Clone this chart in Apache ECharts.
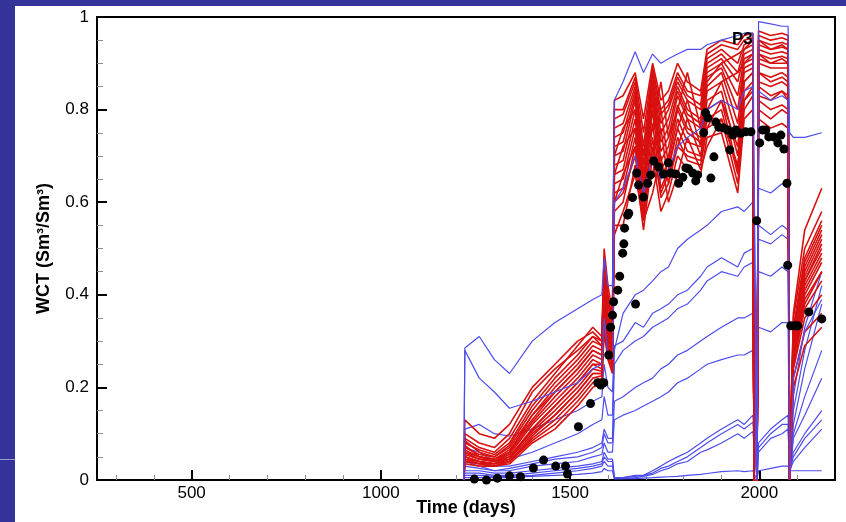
<!DOCTYPE html>
<html>
<head>
<meta charset="utf-8">
<script src="https://cdn.jsdelivr.net/npm/echarts@6/dist/echarts.min.js"></script>
<style>
  html, body { margin: 0; padding: 0; background: #333399; }
  #panel { position: absolute; left: 15px; top: 6px; width: 831px; height: 516px; background: #fff; }
  #rule { position: absolute; left: 0; top: 459px; width: 15px; height: 1px; background: #9a9ad6; }
  #main { position: absolute; left: 0; top: 0; width: 846px; height: 522px; }
</style>
</head>
<body>
<div id="panel"></div>
<div id="rule"></div>
<div id="main"></div>
<script>
// time grid shared by all simulated runs (days)
var days = [1219, 1222, 1260, 1300, 1340, 1400, 1460, 1520, 1560, 1584, 1590, 1600, 1612,
    1617, 1640, 1672, 1694, 1718, 1740, 1760, 1784, 1810, 1845, 1862, 1900, 1943, 1960, 1983,
    1986, 1994, 1998, 2030, 2060, 2076, 2080, 2090, 2120, 2165];

var xMajor = [500, 1000, 1500, 2000];
var xMinor = [300, 400, 600, 700, 800, 900, 1100, 1200, 1300, 1400, 1600, 1700, 1800, 1900, 2100];

// red runs (WCT)
var r01 = [0, 0.09,0.07,0.06,0.09,0.17,0.23,0.29,0.33,0.31,0.50,0.42,0.36, 0.82,0.83,0.88,0.78,0.90,0.82,0.84,0.90,0.86,0.84,0.93,0.95,0.94,0.96,0.965, 0,0, 0.97,0.96,0.965,0.96, 0,0.35,0.50,0.58];
var r02 = [0, 0.08,0.065,0.055,0.08,0.16,0.22,0.27,0.31,0.30,0.48,0.40,0.34, 0.80,0.80,0.87,0.75,0.89,0.80,0.82,0.88,0.84,0.83,0.92,0.94,0.93,0.95,0.955, 0,0, 0.96,0.95,0.955,0.95, 0,0.33,0.48,0.56];
var r03 = [0, 0.085,0.06,0.05,0.075,0.15,0.21,0.26,0.30,0.29,0.46,0.38,0.33, 0.78,0.79,0.86,0.72,0.88,0.79,0.81,0.87,0.83,0.81,0.91,0.93,0.90,0.94,0.95, 0,0, 0.95,0.94,0.945,0.94, 0,0.32,0.47,0.55];
var r04 = [0, 0.07,0.055,0.05,0.07,0.14,0.20,0.25,0.29,0.28,0.44,0.36,0.32, 0.76,0.77,0.85,0.70,0.87,0.77,0.80,0.86,0.82,0.80,0.90,0.92,0.88,0.93,0.94, 0,0, 0.94,0.93,0.935,0.93, 0,0.31,0.45,0.53];
var r05 = [0, 0.075,0.05,0.045,0.065,0.13,0.19,0.24,0.28,0.27,0.43,0.35,0.31, 0.74,0.75,0.84,0.68,0.86,0.75,0.78,0.85,0.80,0.78,0.89,0.91,0.86,0.92,0.93, 0,0, 0.93,0.92,0.925,0.92, 0,0.30,0.44,0.52];
var r06 = [0, 0.065,0.05,0.045,0.06,0.125,0.18,0.23,0.27,0.26,0.42,0.34,0.30, 0.72,0.73,0.83,0.66,0.85,0.73,0.76,0.84,0.79,0.77,0.88,0.90,0.83,0.91,0.92, 0,0, 0.92,0.91,0.915,0.91, 0,0.29,0.43,0.50];
var r07 = [0, 0.06,0.045,0.04,0.055,0.12,0.17,0.22,0.26,0.25,0.40,0.33,0.29, 0.70,0.71,0.82,0.64,0.84,0.71,0.74,0.83,0.78,0.76,0.87,0.89,0.80,0.90,0.91, 0,0, 0.91,0.90,0.90,0.90, 0,0.28,0.42,0.49];
var r08 = [0, 0.055,0.045,0.04,0.05,0.11,0.16,0.21,0.25,0.24,0.39,0.32,0.28, 0.68,0.69,0.80,0.62,0.83,0.69,0.72,0.81,0.76,0.74,0.85,0.88,0.77,0.89,0.90, 0,0, 0.90,0.89,0.89,0.89, 0,0.27,0.40,0.47];
var r09 = [0, 0.05,0.04,0.035,0.05,0.105,0.15,0.20,0.24,0.235,0.37,0.30,0.27, 0.66,0.67,0.78,0.61,0.82,0.67,0.70,0.80,0.75,0.73,0.84,0.86,0.74,0.88,0.89, 0,0, 0.88,0.87,0.88,0.87, 0,0.26,0.39,0.45];
var r10 = [0, 0.05,0.04,0.035,0.045,0.10,0.14,0.19,0.23,0.23,0.36,0.29,0.26, 0.64,0.65,0.76,0.60,0.80,0.65,0.69,0.78,0.73,0.72,0.82,0.84,0.70,0.86,0.88, 0,0, 0.86,0.85,0.86,0.85, 0,0.25,0.37,0.43];
var r11 = [0, 0.045,0.035,0.035,0.04,0.09,0.13,0.18,0.22,0.225,0.34,0.28,0.25, 0.62,0.63,0.74,0.58,0.77,0.63,0.67,0.76,0.71,0.70,0.80,0.82,0.67,0.84,0.86, 0,0, 0.83,0.82,0.84,0.82, 0,0.24,0.35,0.40];
var r12 = [0, 0.04,0.035,0.03,0.04,0.085,0.12,0.17,0.21,0.22,0.33,0.27,0.24, 0.58,0.60,0.72,0.56,0.74,0.61,0.64,0.74,0.69,0.68,0.76,0.78,0.64,0.80,0.83, 0,0, 0.80,0.78,0.80,0.79, 0,0.22,0.32,0.36];
var r13 = [0, 0.13,0.10,0.09,0.12,0.20,0.25,0.30,0.32,0.30,0.45,0.38,0.33, 0.60,0.62,0.70,0.57,0.72,0.62,0.66,0.72,0.70,0.69,0.78,0.80,0.66,0.82,0.84, 0,0, 0.82,0.80,0.81,0.80, 0,0.36,0.54,0.63];
var r14 = [0, 0.035,0.03,0.03,0.035,0.08,0.11,0.16,0.20,0.21,0.32,0.26,0.23, 0.55,0.55,0.68,0.54,0.70,0.58,0.62,0.70,0.67,0.66,0.74,0.75,0.62,0.78,0.80, 0,0, 0.78,0.76,0.77,0.76, 0,0.20,0.29,0.33];
var r15 = [0, 0.10,0.08,0.07,0.10,0.19,0.24,0.28,0.31,0.29,0.47,0.39,0.35, 0.70,0.76,0.80,0.70,0.76,0.86,0.74,0.80,0.88,0.76,0.86,0.90,0.92,0.93,0.95, 0,0, 0.95,0.93,0.94,0.93, 0,0.31,0.46,0.54];
var r16 = [0, 0.06,0.05,0.04,0.06,0.14,0.19,0.24,0.28,0.27,0.41,0.34,0.30, 0.66,0.72,0.76,0.64,0.70,0.80,0.68,0.76,0.82,0.72,0.80,0.86,0.88,0.90,0.92, 0,0, 0.92,0.90,0.91,0.90, 0,0.29,0.43,0.51];
var r17 = [0, 0.045,0.04,0.035,0.045,0.11,0.16,0.21,0.25,0.25,0.38,0.31,0.27, 0.60,0.66,0.72,0.60,0.66,0.76,0.64,0.72,0.78,0.70,0.76,0.82,0.72,0.86,0.88, 0,0, 0.88,0.86,0.87,0.86, 0,0.27,0.41,0.48];
var r18 = [0, 0.04,0.035,0.03,0.04,0.095,0.14,0.19,0.23,0.23,0.35,0.29,0.25, 0.53,0.58,0.66,0.56,0.62,0.70,0.60,0.66,0.74,0.67,0.72,0.78,0.68,0.82,0.85, 0,0, 0.85,0.83,0.84,0.83, 0,0.25,0.38,0.45];

// blue runs (WCT)
var b01 = [0, 0.285,0.31,0.26,0.23,0.30,0.34,0.37,0.39,0.40,0.48,0.42,0.42, 0.82,0.86,0.925,0.88,0.92,0.90,0.91,0.92,0.93,0.93,0.94,0.95,0.96,0.965,0.965, 0.965,0, 0.99,0.985,0.98,0.98, 0.75,0.74,0.74,0.75];
var b02 = [0, 0.28,0.22,0.19,0.155,0.17,0.19,0.21,0.24,0.25,0.35,0.27,0.26, 0.60,0.63,0.70,0.62,0.70,0.65,0.67,0.72,0.74,0.76,0.80,0.82,0.80,0.84,0.85, 0.85,0, 0.84,0.82,0.83,0.82, 0,0.22,0.32,0.39];
var b03 = [0, 0.11,0.12,0.10,0.095,0.11,0.13,0.15,0.17,0.18,0.25,0.20,0.19, 0.28,0.36,0.40,0.41,0.43,0.45,0.46,0.50,0.52,0.54,0.55,0.58,0.59,0.58,0.60, 0.60,0, 0.55,0.53,0.55,0.54, 0,0.18,0.33,0.45];
var b04 = [0, 0.07,0.06,0.04,0.045,0.06,0.08,0.10,0.12,0.13,0.18,0.14,0.14, 0.29,0.30,0.34,0.33,0.36,0.37,0.38,0.40,0.41,0.44,0.46,0.48,0.46,0.49,0.50, 0.50,0, 0.45,0.44,0.46,0.45, 0,0.15,0.28,0.42];
var b05 = [0, 0.05,0.04,0.03,0.03,0.04,0.05,0.06,0.07,0.08,0.11,0.09,0.09, 0.25,0.28,0.30,0.31,0.33,0.34,0.35,0.37,0.38,0.41,0.43,0.45,0.44,0.46,0.47, 0.47,0, 0.33,0.32,0.34,0.34, 0,0.12,0.24,0.38];
var b06 = [0, 0.04,0.03,0.02,0.025,0.035,0.045,0.05,0.06,0.07,0.10,0.08,0.08, 0.17,0.18,0.20,0.21,0.22,0.24,0.25,0.27,0.28,0.30,0.31,0.33,0.35,0.35,0.36, 0.36,0, 0.63,0.62,0.64,0.63, 0,0.10,0.18,0.28];
var b07 = [0, 0.03,0.025,0.02,0.02,0.03,0.035,0.04,0.05,0.055,0.08,0.06,0.06, 0.13,0.14,0.15,0.16,0.17,0.18,0.19,0.21,0.22,0.24,0.25,0.26,0.27,0.27,0.28, 0.28,0, 0.52,0.51,0.53,0.52, 0,0.09,0.14,0.22];
var b08 = [0, 0.02,0.02,0.015,0.015,0.02,0.025,0.03,0.035,0.04,0.06,0.045,0.045, 0.005,0.005,0.01,0.01,0.02,0.03,0.04,0.05,0.06,0.08,0.09,0.11,0.13,0.12,0.14, 0.14,0, 0.08,0.11,0.13,0.14, 0.02,0.06,0.10,0.15];
var b09 = [0, 0.015,0.015,0.01,0.01,0.015,0.02,0.025,0.03,0.035,0.05,0.04,0.04, 0.005,0.005,0.008,0.01,0.015,0.025,0.03,0.04,0.05,0.07,0.08,0.10,0.12,0.11,0.125, 0.125,0, 0.07,0.10,0.12,0.12, 0.02,0.05,0.09,0.13];
var b10 = [0, 0.01,0.01,0.008,0.008,0.01,0.015,0.02,0.025,0.03,0.04,0.03,0.03, 0.003,0.003,0.005,0.008,0.012,0.02,0.025,0.035,0.04,0.06,0.065,0.08,0.10,0.09,0.105, 0.105,0, 0.06,0.09,0.10,0.11, 0.02,0.04,0.07,0.11];
var b11 = [0, 0.005,0.005,0.005,0.005,0.008,0.01,0.012,0.015,0.018,0.025,0.02,0.02, 0.003,0.003,0.003,0.004,0.005,0.006,0.007,0.008,0.01,0.012,0.014,0.018,0.02,0.018,0.02, 0.02,0, 0.02,0.025,0.03,0.03, 0.02,0.02,0.02,0.02];

// observed WCT (days, value)
var obsDays = [1247, 1279, 1308, 1340, 1369, 1403, 1430, 1462, 1488, 1493, 1522, 1554, 1573, 1581, 1589,
    1602, 1607, 1612, 1615, 1626, 1631, 1639, 1642, 1644, 1652, 1655, 1665, 1673, 1676, 1681, 1694,
    1705, 1713, 1721, 1734, 1747, 1760, 1766, 1779, 1787, 1798, 1806, 1813, 1824, 1832, 1837, 1853,
    1858, 1864, 1872, 1880, 1885, 1893, 1906, 1917, 1922, 1930, 1938, 1951, 1964, 1978, 1993, 2001,
    2009, 2017, 2025, 2038, 2049, 2057, 2065, 2073, 2075, 2083, 2094, 2102, 2131, 2165];
var obsWct = [0.002, 0.0, 0.004, 0.009, 0.007, 0.026, 0.043, 0.03, 0.03, 0.013, 0.115, 0.165, 0.21, 0.205, 0.21,
    0.27, 0.33, 0.356, 0.385, 0.41, 0.44, 0.49, 0.51, 0.544, 0.572, 0.576, 0.61, 0.38, 0.663, 0.637, 0.611,
    0.641, 0.659, 0.689, 0.676, 0.661, 0.685, 0.663, 0.661, 0.641, 0.654, 0.674, 0.672, 0.663, 0.646, 0.659, 0.75,
    0.793, 0.782, 0.652, 0.698, 0.773, 0.762, 0.76, 0.756, 0.713, 0.745, 0.756, 0.749, 0.752, 0.752, 0.56, 0.728,
    0.756, 0.756, 0.741, 0.741, 0.728, 0.745, 0.715, 0.641, 0.464, 0.333, 0.333, 0.333, 0.363, 0.348];

var redRuns = [r01, r15, r02, r03, r16, r04, r05, r06, r17, r07, r08, r09, r18, r10, r11, r12, r13, r14];
var blueBack = [b03, b04, b05, b06, b07, b08, b09, b10, b11];
var blueFront = [b01, b02];

var BLUE = '#4d4def';
var RED = '#d81010';
var FONT = 'Liberation Sans';

function toPairs(ys) {
    var out = [];
    for (var i = 0; i < ys.length; i++) {
        out.push([days[i], ys[i]]);
    }
    return out;
}

function runSeries(ys, color, width, z) {
    return {
        type: 'line',
        data: toPairs(ys),
        symbol: 'none',
        silent: true,
        z: z,
        lineStyle: { color: color, width: width }
    };
}

var seriesArr = [];
for (var i = 0; i < blueBack.length; i++) seriesArr.push(runSeries(blueBack[i], BLUE, 1.2, 2));
for (var i = 0; i < redRuns.length; i++) seriesArr.push(runSeries(redRuns[i], RED, 1.6, 3));
for (var i = 0; i < blueFront.length; i++) seriesArr.push(runSeries(blueFront[i], BLUE, 1.2, 4));

var obs = [];
for (var i = 0; i < obsDays.length; i++) obs.push([obsDays[i], obsWct[i]]);
seriesArr.push({
    type: 'scatter',
    data: obs,
    symbolSize: 9,
    silent: true,
    z: 6,
    itemStyle: { color: '#000', opacity: 1 }
});

var myChart = echarts.init(document.getElementById('main'));
var option = {
    backgroundColor: 'transparent',
    animation: false,
    grid: {
        left: 97, top: 17, right: 11, bottom: 42,
        outerBoundsMode: 'none', containLabel: false,
        show: true, borderColor: '#000', borderWidth: 2, backgroundColor: 'transparent'
    },
    xAxis: [
        {
            type: 'value', min: 250, max: 2200,
            name: 'Time (days)', nameLocation: 'middle', nameGap: 19, nameMoveOverlap: false,
            nameTextStyle: { fontFamily: FONT, fontSize: 18, fontWeight: 'bold', color: '#000' },
            axisLine: { lineStyle: { color: '#000', width: 2 } },
            axisTick: { inside: true, length: 10, customValues: xMajor, lineStyle: { color: '#000', width: 2 } },
            axisLabel: {
                customValues: xMajor, margin: 5, fontFamily: FONT, fontSize: 17, color: '#000',
                formatter: function (v) { return String(v); }
            },
            splitLine: { show: false }
        },
        {
            type: 'value', min: 250, max: 2200, position: 'bottom', offset: 0,
            axisLine: { show: false },
            axisTick: { inside: true, length: 5, customValues: xMinor, lineStyle: { color: '#8a8a8a', width: 1 } },
            axisLabel: { show: false },
            splitLine: { show: false }
        }
    ],
    yAxis: {
        type: 'value', min: 0, max: 1, interval: 0.2,
        name: 'WCT (Sm³/Sm³)', nameLocation: 'middle', nameGap: 44, nameMoveOverlap: false,
        nameTextStyle: { fontFamily: FONT, fontSize: 18, fontWeight: 'bold', color: '#000' },
        axisLine: { lineStyle: { color: '#000', width: 2 } },
        axisTick: { inside: true, length: 10, lineStyle: { color: '#000', width: 2 } },
        minorTick: { show: true, splitNumber: 4, length: 6, lineStyle: { color: '#8a8a8a', width: 1 } },
        axisLabel: {
            margin: 8, fontFamily: FONT, fontSize: 17, color: '#000',
            formatter: function (v) { return String(v); }
        },
        splitLine: { show: false }
    },
    graphic: [
        {
            type: 'text', left: 732, top: 31, z: 100,
            style: { text: 'P3', font: 'bold 17px "Liberation Sans"', fill: '#000' }
        }
    ],
    series: seriesArr
};
myChart.setOption(option);
</script>
</body>
</html>
